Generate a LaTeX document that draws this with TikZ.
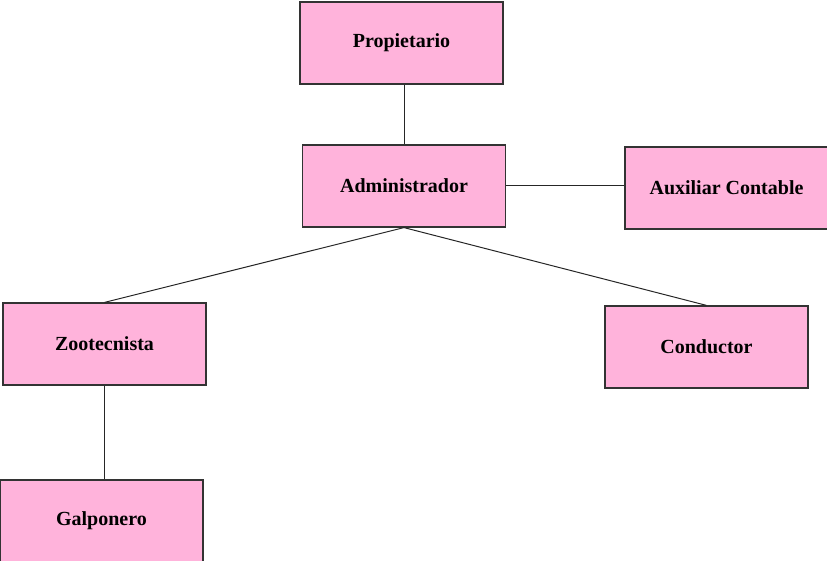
\documentclass[tikz,border=0pt]{standalone}
\usepackage{fontspec}
\setmainfont{Liberation Serif}
\usetikzlibrary{positioning}
\definecolor{cargopink}{HTML}{FFB3DB}
\tikzset{cargo/.style={draw=black!80, fill=cargopink, rectangle, line width=1.2pt, minimum width=203pt, minimum height=82pt, inner sep=0pt, font=\fontsize{20pt}{22pt}\selectfont\bfseries}}
\tikzset{enlace/.style={draw=black!85, line width=1pt}}

\begin{document}
\begin{tikzpicture}[x=1pt, y=-1pt]
\useasboundingbox (0,0) rectangle (827,561);
\node[cargo] (propietario) at (401.5,43) {Propietario};
\node[cargo] (administrador) at (404,186) {Administrador};
\node[cargo] (auxiliar) at (726.5,188) {Auxiliar Contable};
\node[cargo] (zootecnista) at (104.5,344) {Zootecnista};
\node[cargo] (conductor) at (706.5,347) {Conductor};
\node[cargo] (galponero) at (101.5,521) {Galponero};
\draw[enlace] (administrador.north) -- (administrador.north |- propietario.south);
\draw[enlace] (administrador.east) -- (administrador.east -| auxiliar.west);
\draw[enlace] (administrador.south) -- (zootecnista.north);
\draw[enlace] (administrador.south) -- (conductor.north);
\draw[enlace] (zootecnista.south) -- (zootecnista.south |- galponero.north);
\end{tikzpicture}
\end{document}
